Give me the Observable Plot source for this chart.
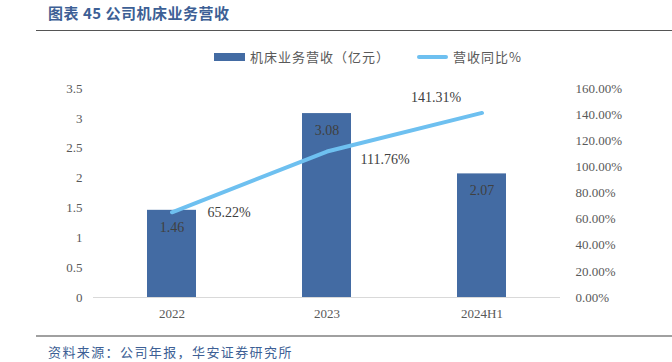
<!DOCTYPE html>
<html><head><meta charset="utf-8">
<script src="https://cdn.jsdelivr.net/npm/d3@7"></script>
<script src="https://cdn.jsdelivr.net/npm/@observablehq/plot@0.6"></script>
<style>
body{margin:0;background:#fff;width:672px;height:362px;overflow:hidden;position:relative;font-family:"Noto Sans CJK SC",sans-serif;}
#title{position:absolute;left:48px;top:2px;font-size:15px;font-weight:bold;color:#3d5f95;letter-spacing:0.5px;}
#rule1{position:absolute;left:36px;top:30px;width:636px;height:0;border-top:1.5px solid #555;}
.lg{position:absolute;top:47px;font-size:13px;color:#595959;white-space:nowrap;letter-spacing:1px;}
.sw{position:absolute;width:31px;}
#chart{position:absolute;left:0;top:70px;}
#rule2{position:absolute;left:36px;top:335px;width:636px;height:0;border-top:2px solid #a0a0a0;}
#source{position:absolute;left:48px;top:342px;font-size:13px;color:#3d5f95;letter-spacing:1.4px;}
</style></head><body>
<div id="title">图表 45 公司机床业务营收</div>
<div id="rule1"></div>
<span class="sw" style="left:214px;top:53px;height:8px;background:#436ba3;"></span>
<span class="lg" style="left:250px;">机床业务营收（亿元）</span>
<span class="sw" style="left:417px;top:55px;height:4px;background:#6ec0f0;border-radius:2px;"></span>
<span class="lg" style="left:453px;">营收同比%</span>
<div id="chart"></div>
<div id="rule2"></div>
<div id="source">资料来源：公司年报，华安证券研究所</div>
<script>
const categories = ["2022", "2023", "2024H1"];
const revenue = [1.46, 3.08, 2.07];
const growth = [65.22, 111.76, 141.31];
const leftTicks = [0, 0.5, 1, 1.5, 2, 2.5, 3, 3.5];
const rightTicks = [0, 20, 40, 60, 80, 100, 120, 140, 160];

const yMax = 3.5, pMax = 160;
const toY = p => p * yMax / pMax;
const bars = categories.map((c, i) => ({cat: c, v: revenue[i]}));
const line = categories.map((c, i) => ({cat: c, p: growth[i], y: toY(growth[i])}));
const lineLabelOffsets = [{dx: 57, dy: 0}, {dx: 58, dy: 8}, {dx: -46, dy: -15}];
const font = "Liberation Serif";

const chart = Plot.plot({
  width: 672, height: 250,
  marginLeft: 93, marginRight: 112, marginTop: 18, marginBottom: 23,
  style: {fontFamily: font, fontSize: "13px", color: "#595959", background: "transparent"},
  x: {domain: categories, paddingInner: 0.685, paddingOuter: 0.3425, label: null},
  y: {domain: [0, yMax], label: null},
  marks: [
    Plot.axisX({tickSize: 0, tickPadding: 11, fontSize: 13, fill: "#595959"}),
    Plot.axisY(leftTicks, {anchor: "left", tickSize: 0, tickPadding: 11, label: null, fontSize: 13, fill: "#595959", tickFormat: d => String(d)}),
    Plot.axisY(rightTicks.map(toY), {anchor: "right", tickSize: 0, tickPadding: 15, label: null, fontSize: 13, fill: "#595959", tickFormat: d => (d * pMax / yMax).toFixed(2) + "%"}),
    Plot.barY(bars, {x: "cat", y: "v", fill: "#436ba3"}),
    Plot.ruleY([0], {stroke: "#d9d9d9", strokeWidth: 1}),
    Plot.text(bars, {x: "cat", y: "v", text: d => d.v.toFixed(2), dy: 17, fill: "#404040", fontSize: 14, fontFamily: font}),
    Plot.line(line, {x: "cat", y: "y", stroke: "#6ec0f0", strokeWidth: 4, strokeLinecap: "round"}),
    ...line.map((d, i) => Plot.text([d], {x: "cat", y: "y", text: d => d.p.toFixed(2) + "%", dx: lineLabelOffsets[i].dx, dy: lineLabelOffsets[i].dy, fill: "#404040", fontSize: 14, fontFamily: font}))
  ]
});
document.getElementById("chart").appendChild(chart);
</script>
</body></html>
